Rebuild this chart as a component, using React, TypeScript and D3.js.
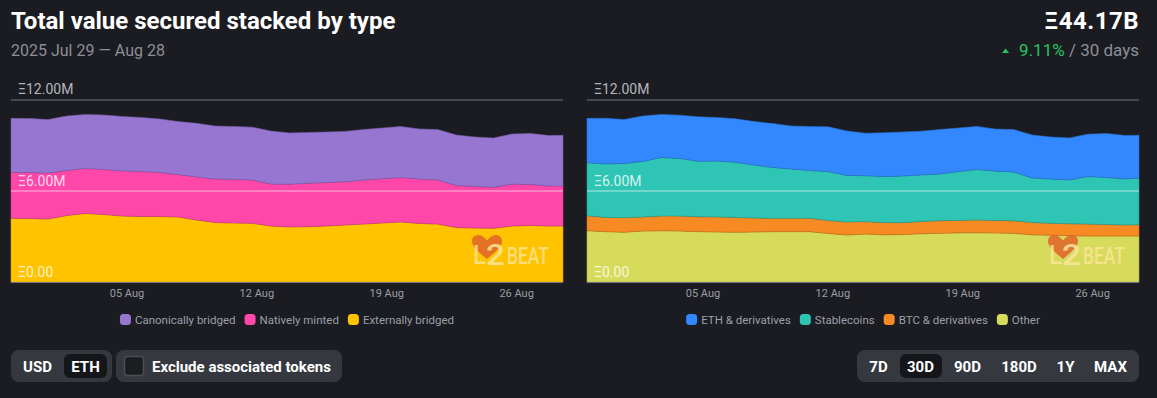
import React, { useEffect, useRef } from "react";
import * as d3 from "d3";

const dates = [
  "2025-07-29T18:00:00Z", "2025-07-30T18:00:00Z", "2025-07-31T18:00:00Z", "2025-08-01T18:00:00Z",
  "2025-08-02T18:00:00Z", "2025-08-03T18:00:00Z", "2025-08-04T18:00:00Z", "2025-08-05T18:00:00Z",
  "2025-08-06T18:00:00Z", "2025-08-07T18:00:00Z", "2025-08-08T18:00:00Z", "2025-08-09T18:00:00Z",
  "2025-08-10T18:00:00Z", "2025-08-11T18:00:00Z", "2025-08-12T18:00:00Z", "2025-08-13T18:00:00Z",
  "2025-08-14T18:00:00Z", "2025-08-15T18:00:00Z", "2025-08-16T18:00:00Z", "2025-08-17T18:00:00Z",
  "2025-08-18T18:00:00Z", "2025-08-19T18:00:00Z", "2025-08-20T18:00:00Z", "2025-08-21T18:00:00Z",
  "2025-08-22T18:00:00Z", "2025-08-23T18:00:00Z", "2025-08-24T18:00:00Z", "2025-08-25T18:00:00Z",
  "2025-08-26T18:00:00Z", "2025-08-27T18:00:00Z", "2025-08-28T12:00:00Z",
];

// values in millions of ETH
const canonicallyBridged = [3.56, 3.56, 3.53, 3.59, 3.56, 3.59, 3.59, 3.56, 3.53, 3.49, 3.53, 3.49, 3.49, 3.49, 3.49, 3.38, 3.34, 3.33, 3.32, 3.33, 3.34, 3.36, 3.30, 3.33, 3.33, 3.26, 3.25, 3.30, 3.36, 3.33, 3.34];
const nativelyMinted = [3.03, 3.03, 3.03, 2.97, 2.97, 2.97, 2.97, 2.97, 2.90, 2.80, 2.84, 2.87, 2.87, 2.85, 2.77, 2.82, 2.86, 2.87, 2.85, 2.90, 2.92, 2.93, 2.93, 2.90, 2.77, 2.74, 2.70, 2.77, 2.70, 2.64, 2.64];
const externallyBridged = [4.20, 4.19, 4.15, 4.38, 4.52, 4.45, 4.35, 4.32, 4.32, 4.29, 4.09, 3.92, 3.89, 3.87, 3.69, 3.63, 3.65, 3.69, 3.76, 3.82, 3.89, 3.96, 3.86, 3.82, 3.59, 3.56, 3.54, 3.69, 3.73, 3.69, 3.69];

const ethDerivatives = [2.93, 3.00, 2.90, 3.00, 2.84, 2.85, 2.93, 2.87, 2.87, 2.87, 2.90, 2.84, 2.90, 2.95, 2.93, 2.80, 2.89, 2.90, 2.88, 2.93, 2.87, 2.84, 2.77, 2.80, 2.84, 2.77, 2.77, 2.80, 2.90, 2.87, 2.82];
const stablecoins = [3.49, 3.53, 3.57, 3.66, 3.86, 3.80, 3.66, 3.69, 3.63, 3.49, 3.35, 3.25, 3.15, 3.22, 3.07, 3.03, 3.03, 3.08, 3.07, 3.08, 3.22, 3.33, 3.26, 3.21, 2.93, 2.92, 2.89, 3.13, 3.10, 3.03, 3.08];
const btcDerivatives = [0.99, 0.94, 0.96, 0.92, 0.97, 0.99, 0.98, 0.99, 0.98, 0.92, 0.88, 0.88, 0.88, 0.86, 0.86, 0.82, 0.81, 0.78, 0.81, 0.83, 0.82, 0.84, 0.82, 0.83, 0.81, 0.78, 0.79, 0.79, 0.76, 0.73, 0.75];
const other = [3.38, 3.32, 3.28, 3.36, 3.38, 3.36, 3.32, 3.30, 3.28, 3.30, 3.32, 3.32, 3.32, 3.20, 3.10, 3.16, 3.11, 3.13, 3.18, 3.21, 3.24, 3.25, 3.23, 3.21, 3.11, 3.09, 3.05, 3.03, 3.03, 3.03, 3.03];

const yTicks = [0, 6, 12];
const xTickDates = ["2025-08-05T00:00:00Z", "2025-08-12T00:00:00Z", "2025-08-19T00:00:00Z", "2025-08-26T00:00:00Z"];

const leftNames = ["Canonically bridged", "Natively minted", "Externally bridged"];
const leftColors = ["#9676d1", "#ff46a9", "#ffc300"];
const rightNames = ["ETH & derivatives", "Stablecoins", "BTC & derivatives", "Other"];
const rightColors = ["#3388ff", "#2ec5b4", "#f78a22", "#d7db5b"];

const unitOptions = ["USD", "ETH"];
const rangeOptions = ["7D", "30D", "90D", "180D", "1Y", "MAX"];

const W = 1157;
const H = 398;
const FONT = "Roboto, 'Noto Sans', sans-serif";
const BG = "#1b1c21";

export default function App() {
  const ref = useRef<SVGSVGElement>(null);

  useEffect(() => {
    document.body.style.margin = "0";
    document.body.style.background = BG;
    const svg = d3.select(ref.current);
    svg.selectAll("*").remove();

    svg.append("rect").attr("width", W).attr("height", H).attr("fill", BG);

    // Header
    svg.append("text").attr("x", 11).attr("y", 28.5).attr("fill", "#ffffff")
      .attr("font-family", FONT).attr("font-weight", 700).attr("font-size", 24)
      .text("Total value secured stacked by type");
    svg.append("text").attr("x", 11).attr("y", 56).attr("fill", "#8c8f97")
      .attr("font-family", FONT).attr("font-size", 16)
      .text("2025 Jul 29 \u2014 Aug 28");
    svg.append("text").attr("x", 1139).attr("y", 28.5).attr("fill", "#ffffff")
      .attr("text-anchor", "end").attr("letter-spacing", 0.5)
      .attr("font-family", FONT).attr("font-weight", 700).attr("font-size", 24)
      .text("\u039e44.17B");
    const ch = svg.append("text").attr("x", 1139).attr("y", 56).attr("text-anchor", "end")
      .attr("font-family", FONT).attr("font-size", 17);
    ch.append("tspan").attr("font-size", 17).attr("fill", "#22c55e").text("9.11%");
    ch.append("tspan").attr("font-size", 17).attr("fill", "#8c8f97").text(" / 30 days");
    const chW = (ch.node() as SVGTextElement).getComputedTextLength();
    const triR = 1139 - chW - 10;
    svg.append("path").attr("d", `M${triR - 7},53 L${triR},53 L${triR - 3.5},48.5 Z`).attr("fill", "#22c55e");

    const parsed = dates.map((d) => new Date(d));
    const y = d3.scaleLinear().domain([0, 12]).range([282, 100]);

    const drawPanel = (x0: number, x1: number, names: string[], colors: string[], seriesTopDown: number[][]) => {
      const g = svg.append("g");
      const x = d3.scaleUtc().domain([parsed[0], parsed[parsed.length - 1]]).range([x0, x1]);
      const bottomUp = seriesTopDown.slice().reverse();
      const colorsBU = colors.slice().reverse();
      const rows = parsed.map((d, i) => {
        const r: any = { date: d };
        bottomUp.forEach((s, k) => (r["s" + k] = s[i]));
        return r;
      });
      const keys = bottomUp.map((_, k) => "s" + k);
      const stacked = d3.stack().keys(keys)(rows);
      const area = d3.area<any>()
        .x((d) => x(d.data.date))
        .y0((d) => y(d[0]))
        .y1((d) => y(d[1]))
        .curve(d3.curveLinear);

      // top gridline
      g.append("line").attr("x1", x0).attr("x2", x1).attr("y1", y(12)).attr("y2", y(12))
        .attr("stroke", "#46484e").attr("stroke-width", 2);

      stacked.forEach((layer, k) => {
        g.append("path").datum(layer).attr("d", area as any)
          .attr("fill", colorsBU[k])
          .attr("stroke", d3.color(colorsBU[k])!.darker(0.6).formatHex())
          .attr("stroke-width", 0.6);
      });

      // middle gridline over the areas
      g.append("line").attr("x1", x0).attr("x2", x1).attr("y1", y(6)).attr("y2", y(6))
        .attr("stroke", "rgba(255,255,255,0.32)").attr("stroke-width", 2);
      // baseline
      g.append("line").attr("x1", x0).attr("x2", x1).attr("y1", y(0) + 0.5).attr("y2", y(0) + 0.5)
        .attr("stroke", "#75777e").attr("stroke-width", 1);

      yTicks.forEach((t) => {
        g.append("text").attr("x", x0 + 7).attr("y", y(t) - (t === 12 ? 6 : 5))
          .attr("font-family", FONT).attr("font-size", 14)
          .attr("fill", t === 12 ? "#b4b6bc" : "rgba(255,255,255,0.8)")
          .text(t === 0 ? "\u039e0.00" : `\u039e${t.toFixed(2)}M`);
      });

      xTickDates.forEach((s) => {
        const d = new Date(s);
        g.append("text").attr("x", x(d)).attr("y", 297).attr("text-anchor", "middle")
          .attr("font-family", FONT).attr("font-size", 11).attr("fill", "#9a9da5")
          .text(d3.utcFormat("%d %b")(d));
      });

      // watermark logo
      const lx = x1 - 91;
      const ly = 235;
      const logo = g.append("g").attr("transform", `translate(${lx},${ly})`);
      logo.append("path")
        .attr("d", "M15,24 C4,15 0,11 0,6 C0,2.2 3,0 6.5,0 C10,0 12.5,2.5 15,5.5 C17.5,2.5 20,0 23.5,0 C27,0 30,2.2 30,6 C30,11 26,15 15,24 Z")
        .attr("fill", "#e0632a").attr("opacity", 0.85);
      const tc = "#fde59a";
      logo.append("text").attr("x", 1).attr("y", 29).attr("font-family", FONT).attr("font-size", 26)
        .attr("font-weight", 500).attr("fill", tc).attr("opacity", 0.8)
        .attr("textLength", 13).attr("lengthAdjust", "spacingAndGlyphs").text("L");
      logo.append("text").attr("x", 14).attr("y", 30).attr("font-family", FONT).attr("font-size", 29)
        .attr("font-weight", 500).attr("fill", tc).attr("opacity", 0.85)
        .attr("textLength", 19).attr("lengthAdjust", "spacingAndGlyphs").text("2");
      logo.append("text").attr("x", 35).attr("y", 29).attr("font-family", FONT).attr("font-size", 24)
        .attr("font-weight", 500).attr("fill", tc).attr("opacity", 0.8)
        .attr("textLength", 42).attr("lengthAdjust", "spacingAndGlyphs").text("BEAT");

      // legend
      const lg = g.append("g");
      let cx = 0;
      names.forEach((n, i) => {
        const it = lg.append("g").attr("transform", `translate(${cx},0)`);
        it.append("rect").attr("x", 0).attr("y", 314).attr("width", 11).attr("height", 11).attr("rx", 3.5)
          .attr("fill", colors[i]);
        const t = it.append("text").attr("x", 15).attr("y", 323.5).attr("font-family", FONT)
          .attr("font-size", 11.5).attr("fill", "#9c9fa7").text(n);
        const w = (t.node() as SVGTextElement).getComputedTextLength();
        cx += 15 + w + 9;
      });
      const total = cx - 9;
      lg.attr("transform", `translate(${(x0 + x1) / 2 - total / 2},0)`);
    };

    drawPanel(11, 563, leftNames, leftColors, [canonicallyBridged, nativelyMinted, externallyBridged]);
    drawPanel(587, 1139, rightNames, rightColors, [ethDerivatives, stablecoins, btcDerivatives, other]);

    // bottom controls
    const ctl = svg.append("g");
    ctl.append("rect").attr("x", 11).attr("y", 350).attr("width", 101).attr("height", 32).attr("rx", 8).attr("fill", "#36383f");
    ctl.append("rect").attr("x", 64).attr("y", 354).attr("width", 43).attr("height", 24).attr("rx", 6).attr("fill", "#15161a");
    const unitX = [37.5, 85.5];
    unitOptions.forEach((u, i) => {
      ctl.append("text").attr("x", unitX[i]).attr("y", 371.5).attr("text-anchor", "middle")
        .attr("font-family", FONT).attr("font-weight", 700).attr("font-size", 15).attr("fill", "#ffffff").text(u);
    });
    ctl.append("rect").attr("x", 116).attr("y", 350).attr("width", 226).attr("height", 32).attr("rx", 8).attr("fill", "#36383f");
    ctl.append("rect").attr("x", 124.5).attr("y", 356.5).attr("width", 19).attr("height", 19).attr("rx", 3)
      .attr("fill", "#1c1d21").attr("stroke", "#4c4e55").attr("stroke-width", 1.5);
    ctl.append("text").attr("x", 152).attr("y", 371.5).attr("font-family", FONT).attr("font-weight", 700)
      .attr("font-size", 15).attr("fill", "#ffffff").text("Exclude associated tokens");

    ctl.append("rect").attr("x", 857).attr("y", 350).attr("width", 282).attr("height", 32).attr("rx", 8).attr("fill", "#36383f");
    ctl.append("rect").attr("x", 900).attr("y", 354).attr("width", 42).attr("height", 24).attr("rx", 6).attr("fill", "#15161a");
    const rangeX = [878.5, 920.5, 967.5, 1019, 1065.5, 1110.5];
    rangeOptions.forEach((r, i) => {
      ctl.append("text").attr("x", rangeX[i]).attr("y", 371.5).attr("text-anchor", "middle")
        .attr("font-family", FONT).attr("font-weight", 700).attr("font-size", 15).attr("fill", "#ffffff").text(r);
    });
  }, []);

  return (
    <svg ref={ref} width={W} height={H} style={{ position: "absolute", left: 0, top: 0, display: "block" }} />
  );
}
